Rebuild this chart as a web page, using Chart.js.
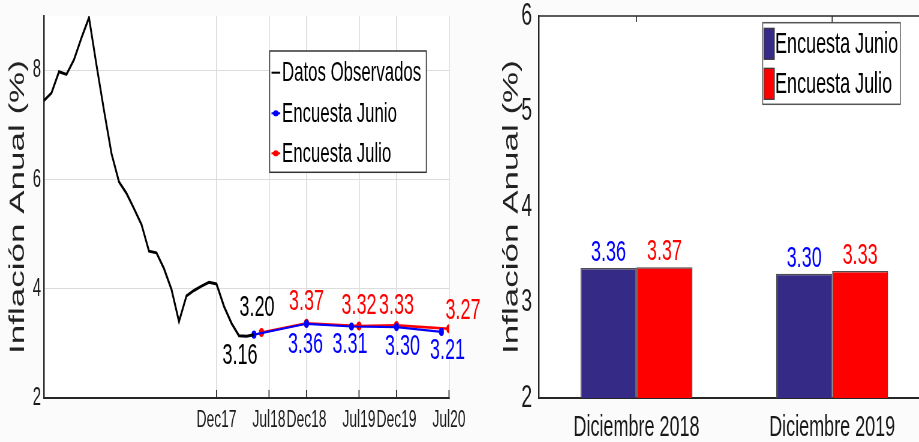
<!DOCTYPE html>
<html>
<head>
<meta charset="utf-8">
<script src="https://cdn.jsdelivr.net/npm/chart.js@4/dist/chart.umd.min.js"></script>
<style>
  html, body { margin: 0; padding: 0; }
  body { width: 919px; height: 442px; overflow: hidden; position: relative; background: #fbfbfb; }
  .panel { position: absolute; top: 0; height: 442px; transform-origin: 0 0; }
  #L { left: 0; width: 834px; z-index: 2; }
  #R { left: 460px; width: 792px; z-index: 1; }
  canvas { display: block; }
</style>
</head>
<body>
<div id="L" class="panel"><canvas id="c1" width="834" height="442" style="width:834px;height:442px"></canvas></div>
<div id="R" class="panel"><canvas id="c2" width="792" height="442" style="width:792px;height:442px"></canvas></div>
<script>
// ---------------- DATA ----------------
// Observed annual inflation, monthly from Jan 2016 (month index 0) to May 2018 (index 28)
const obsValues = [7.45, 7.59, 7.98, 7.93, 8.20, 8.60, 8.97, 8.10, 7.27, 6.48, 5.96, 5.75,
                   5.47, 5.18, 4.69, 4.66, 4.37, 3.99, 3.40, 3.87, 3.97, 4.05, 4.12, 4.09,
                   3.68, 3.37, 3.14, 3.13, 3.16];
const junioMonths = [28, 35, 41, 47, 53];
const junioValues = [3.16, 3.36, 3.31, 3.30, 3.21];
const julioMonths = [29, 35, 42, 47, 54];
const julioValues = [3.20, 3.37, 3.32, 3.33, 3.27];
const xTickMonths = [23, 30, 35, 42, 47, 54];
const xTickLabels = ['Dec17', 'Jul18', 'Dec18', 'Jul19', 'Dec19', 'Jul20'];
const yTicksLeft = [2, 4, 6, 8];
const seriesNames = ['Datos Observados', 'Encuesta Junio', 'Encuesta Julio'];
const barCategories = ['Diciembre 2018', 'Diciembre 2019'];
const barJunio = [3.36, 3.30];
const barJulio = [3.37, 3.33];
const yTitle = 'Inflación Anual (%)';

// ---------------- STYLE ----------------
const S = 0.6; // horizontal condensing of the whole figure
document.getElementById('L').style.transform = 'scaleX(' + S + ')';
document.getElementById('R').style.transform = 'scaleX(' + S + ')';
const FONT = "'Liberation Sans', Arial, Helvetica, sans-serif";
const AX = '#262626';
const GRID = '#dcdcdc';
const BLUE = '#0000ff', RED = '#ff0000', NAVY = '#352a86';
Chart.defaults.font.family = FONT;
Chart.defaults.color = '#1a1a1a';

const whiteArea = {
  id: 'whiteArea',
  beforeDraw(chart) {
    const {ctx, chartArea: a} = chart;
    ctx.save(); ctx.fillStyle = '#ffffff';
    ctx.fillRect(a.left, a.top, a.right - a.left, a.bottom - a.top);
    ctx.restore();
  }
};

// label placement for the line chart (final-pixel offsets)
const leftLabelSpec = [
  {ds: 0, i: obsValues.length - 1, color: '#000', dx: -14, dy: 21},
  {ds: 2, i: 0, color: '#000', dx: -4.5, dy: -25},
  {ds: 2, i: 1, color: RED, dx: 0, dy: -22},
  {ds: 2, i: 2, color: RED, dx: 0, dy: -20},
  {ds: 2, i: 3, color: RED, dx: 0, dy: -20},
  {ds: 2, i: 4, color: RED, dx: 14, dy: -18},
  {ds: 1, i: 1, color: BLUE, dx: -1, dy: 21},
  {ds: 1, i: 2, color: BLUE, dx: -1.5, dy: 18},
  {ds: 1, i: 3, color: BLUE, dx: 6, dy: 20},
  {ds: 1, i: 4, color: BLUE, dx: 6, dy: 19}
];

const leftExtras = {
  id: 'leftExtras',
  afterDatasetsDraw(chart) {
    const {ctx, chartArea: a, scales} = chart;
    ctx.save();
    // inner tick marks on the x axis
    ctx.strokeStyle = AX; ctx.lineWidth = 1.6;
    xTickMonths.forEach(m => {
      const px = scales.x.getPixelForValue(m);
      ctx.beginPath(); ctx.moveTo(px, a.bottom); ctx.lineTo(px, a.bottom - 8); ctx.stroke();
    });
    // value labels
    ctx.font = '30px ' + FONT; ctx.textAlign = 'center'; ctx.textBaseline = 'middle';
    leftLabelSpec.forEach(sp => {
      const el = chart.getDatasetMeta(sp.ds).data[sp.i];
      const v = chart.data.datasets[sp.ds].data[sp.i].y;
      ctx.fillStyle = sp.color;
      ctx.fillText(v.toFixed(2), el.x + sp.dx / S, el.y + sp.dy);
    });
    // legend
    const bx = 449.5, by = 51, bw = 261, bh = 121.3;
    ctx.fillStyle = '#ffffff'; ctx.fillRect(bx, by, bw, bh);
    ctx.strokeStyle = '#333'; ctx.lineWidth = 1.5; ctx.strokeRect(bx, by, bw, bh);
    const rows = [72.7, 113.3, 153.3];
    ctx.font = '28px ' + FONT; ctx.textAlign = 'left'; ctx.textBaseline = 'middle';
    chart.data.datasets.forEach((ds, k) => {
      const y = rows[k];
      ctx.strokeStyle = ds.borderColor; ctx.lineWidth = 2;
      ctx.beginPath(); ctx.moveTo(452.5, y); ctx.lineTo(467, y); ctx.stroke();
      if (k > 0) {
        ctx.fillStyle = ds.borderColor;
        ctx.beginPath(); ctx.ellipse(459.7, y, 4 / S * 0.75, 3, 0, 0, Math.PI * 2); ctx.fill();
      }
      ctx.fillStyle = '#000';
      ctx.fillText(ds.label, 470, y + 1);
    });
    ctx.restore();
  }
};

const rightExtras = {
  id: 'rightExtras',
  afterDatasetsDraw(chart) {
    const {ctx, chartArea: a, scales} = chart;
    ctx.save();
    // top frame line
    ctx.strokeStyle = AX; ctx.lineWidth = 1.5;
    ctx.beginPath(); ctx.moveTo(a.left, a.top); ctx.lineTo(a.right + 20, a.top); ctx.stroke();
    // top tick marks at category centres
    ctx.lineWidth = 1.6;
    barCategories.forEach((c, i) => {
      const px = scales.x.getPixelForValue(i);
      ctx.beginPath(); ctx.moveTo(px, a.top); ctx.lineTo(px, a.top + 6); ctx.stroke();
    });
    // value labels
    ctx.font = '30px ' + FONT; ctx.textAlign = 'center'; ctx.textBaseline = 'middle';
    const labelColors = [BLUE, RED];
    chart.data.datasets.forEach((ds, k) => {
      chart.getDatasetMeta(k).data.forEach((bar, i) => {
        ctx.fillStyle = labelColors[k];
        ctx.fillText(ds.data[i].toFixed(2), bar.x, bar.y - 15);
      });
    });
    // legend
    const bx = 504.5, by = 22.7, bw = 229.3, bh = 81.6;
    ctx.fillStyle = '#ffffff'; ctx.fillRect(bx, by, bw, bh);
    ctx.strokeStyle = '#555'; ctx.lineWidth = 1.5; ctx.strokeRect(bx, by, bw, bh);
    const patches = [28.3, 68.3];
    ctx.font = '30px ' + FONT; ctx.textAlign = 'left'; ctx.textBaseline = 'middle';
    chart.data.datasets.forEach((ds, k) => {
      const py = patches[k];
      ctx.fillStyle = ds.backgroundColor; ctx.fillRect(506.7, py, 17.2, 31);
      ctx.strokeStyle = '#333'; ctx.lineWidth = 1.2; ctx.strokeRect(506.7, py, 17.2, 31);
      ctx.fillStyle = '#000';
      ctx.fillText(ds.label, 525, py + 16);
    });
    ctx.restore();
  }
};

// ---------------- LEFT CHART ----------------
const toXY = (xs, ys) => xs.map((x, i) => ({x: x, y: ys[i]}));
new Chart(document.getElementById('c1'), {
  type: 'line',
  data: {
    datasets: [
      {label: seriesNames[0], data: obsValues.map((v, i) => ({x: i, y: v})), borderColor: '#000000',
       backgroundColor: '#000000', borderWidth: 3, pointRadius: 0, tension: 0},
      {label: seriesNames[1], data: toXY(junioMonths, junioValues), borderColor: BLUE,
       backgroundColor: BLUE, borderWidth: 2.2, pointRadius: 3, pointStyle: 'circle', tension: 0},
      {label: seriesNames[2], data: toXY(julioMonths, julioValues), borderColor: RED,
       backgroundColor: RED, borderWidth: 2.6, pointRadius: 3.2, pointStyle: 'circle', tension: 0}
    ]
  },
  options: {
    responsive: false, animation: false, devicePixelRatio: 1,
    layout: {padding: {left: 0, right: 85.7, top: 16, bottom: 0}},
    plugins: {legend: {display: false}, tooltip: {enabled: false}},
    scales: {
      x: {
        type: 'linear', min: 0, max: 54,
        afterBuildTicks: s => { s.ticks = xTickMonths.map(v => ({value: v})); },
        ticks: {callback: (v, i) => xTickLabels[i], autoSkip: false, maxRotation: 0,
                font: {size: 23}, color: '#1a1a1a', padding: 8.6},
        grid: {color: GRID, lineWidth: 1.6, drawTicks: false},
        border: {display: true, color: AX, width: 2},
        afterFit: s => { s.height = 44; s.paddingLeft = 0; s.paddingRight = 0; }
      },
      y: {
        min: 2, max: 9,
        afterBuildTicks: s => { s.ticks = yTicksLeft.map(v => ({value: v})); },
        ticks: {font: {size: 25}, color: '#1a1a1a', padding: 5},
        grid: {color: GRID, lineWidth: 1, drawTicks: false},
        border: {display: true, color: AX, width: 2.5},
        title: {display: true, text: yTitle, font: {size: 35}, color: '#222', padding: {top: 9, bottom: 0}},
        afterFit: s => { s.width = 73.3; s.paddingTop = 0; s.paddingBottom = 0; }
      }
    }
  },
  plugins: [whiteArea, leftExtras]
});

// ---------------- RIGHT CHART ----------------
new Chart(document.getElementById('c2'), {
  type: 'bar',
  data: {
    labels: barCategories,
    datasets: [
      {label: seriesNames[1], data: barJunio, backgroundColor: NAVY, borderColor: '#4d4d4d', borderWidth: 1.5,
       barPercentage: 1, categoryPercentage: 0.572},
      {label: seriesNames[2], data: barJulio, backgroundColor: RED, borderColor: '#4d4d4d', borderWidth: 1.5,
       barPercentage: 1, categoryPercentage: 0.572}
    ]
  },
  options: {
    responsive: false, animation: false, devicePixelRatio: 1,
    layout: {padding: {left: 0, right: 8.7, top: 16, bottom: 0}},
    plugins: {legend: {display: false}, tooltip: {enabled: false}},
    scales: {
      x: {
        offset: true,
        grid: {display: false, drawTicks: false},
        border: {display: true, color: AX, width: 2},
        ticks: {font: {size: 30}, color: '#1a1a1a', padding: 11.7, maxRotation: 0},
        afterFit: s => { s.height = 44; s.paddingLeft = 0; s.paddingRight = 0; }
      },
      y: {
        min: 2, max: 6,
        ticks: {stepSize: 1, font: {size: 32}, color: '#1a1a1a', padding: 11},
        grid: {display: false, drawTicks: false},
        border: {display: true, color: AX, width: 2.5},
        title: {display: true, text: yTitle, font: {size: 35}, color: '#222', padding: {top: 65, bottom: 0}},
        afterFit: s => { s.width = 131.1; s.paddingTop = 0; s.paddingBottom = 0; }
      }
    }
  },
  plugins: [whiteArea, rightExtras]
});
</script>
</body>
</html>
